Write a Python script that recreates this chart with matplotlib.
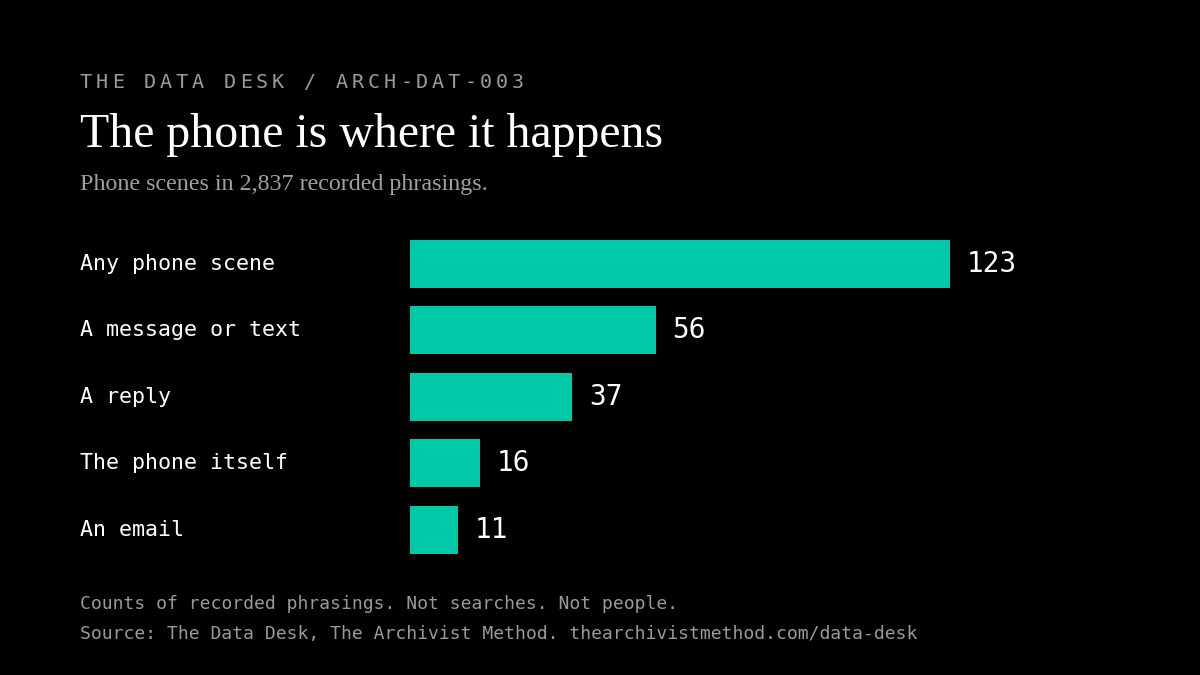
import matplotlib
matplotlib.use("Agg")
import matplotlib.pyplot as plt
from matplotlib.transforms import blended_transform_factory

# data
categories = ["Any phone scene", "A message or text", "A reply", "The phone itself", "An email"]
counts = [123, 56, 37, 16, 11]

kicker = "THE DATA DESK / ARCH-DAT-003"
title = "The phone is where it happens"
subtitle = "Phone scenes in 2,837 recorded phrasings."
note = "Counts of recorded phrasings. Not searches. Not people."
source = "Source: The Data Desk, The Archivist Method. thearchivistmethod.com/data-desk"

BG = "#000000"
BAR = "#00C9A7"
MONO = "DejaVu Sans Mono"
SERIF = "Liberation Serif"

W, H = 1200, 675
fig = plt.figure(figsize=(12, 6.75), dpi=100, facecolor=BG)


def fx(px):
    return px / W


def fy(py):
    return 1 - py / H


# bar panel: x from 410px, 123 ends at 950px; bar centres 264..530px
ax = fig.add_axes([fx(410), fy(563), fx(540), 332.5 / H])
ax.set_facecolor(BG)
ypos = list(range(len(categories)))
ax.barh(ypos, counts, height=0.72, color=BAR, edgecolor="none")
ax.set_xlim(0, max(counts))
ax.set_ylim(len(categories) - 0.5, -0.5)
ax.axis("off")

lab_tr = blended_transform_factory(fig.transFigure, ax.transData)
for i, (cat, v) in enumerate(zip(categories, counts)):
    ax.text(fx(80), i, cat, transform=lab_tr, ha="left", va="center",
            fontsize=15.6, family=MONO, color="#ffffff")
    ax.annotate(str(v), (v, i), xytext=(12, 0), textcoords="offset points",
                ha="left", va="center", fontsize=20, family=MONO, color="#ffffff")

# kicker with letter spacing
for k, ch in enumerate(kicker):
    fig.text(fx(80 + k * 16.0), fy(88), ch, ha="left", va="baseline",
             fontsize=14.5, family=MONO, color="#9a9a9a")

fig.text(fx(80), fy(147), title, ha="left", va="baseline",
         fontsize=34.4, family=SERIF, color="#ffffff")
fig.text(fx(80), fy(190), subtitle, ha="left", va="baseline",
         fontsize=17.3, family=SERIF, color="#a0a0a0")

fig.text(fx(80), fy(609), note, ha="left", va="baseline",
         fontsize=12.95, family=MONO, color="#9a9a9a")
fig.text(fx(80), fy(639), source, ha="left", va="baseline",
         fontsize=12.95, family=MONO, color="#9a9a9a")

fig.savefig("out.png", dpi=100, facecolor=BG)
